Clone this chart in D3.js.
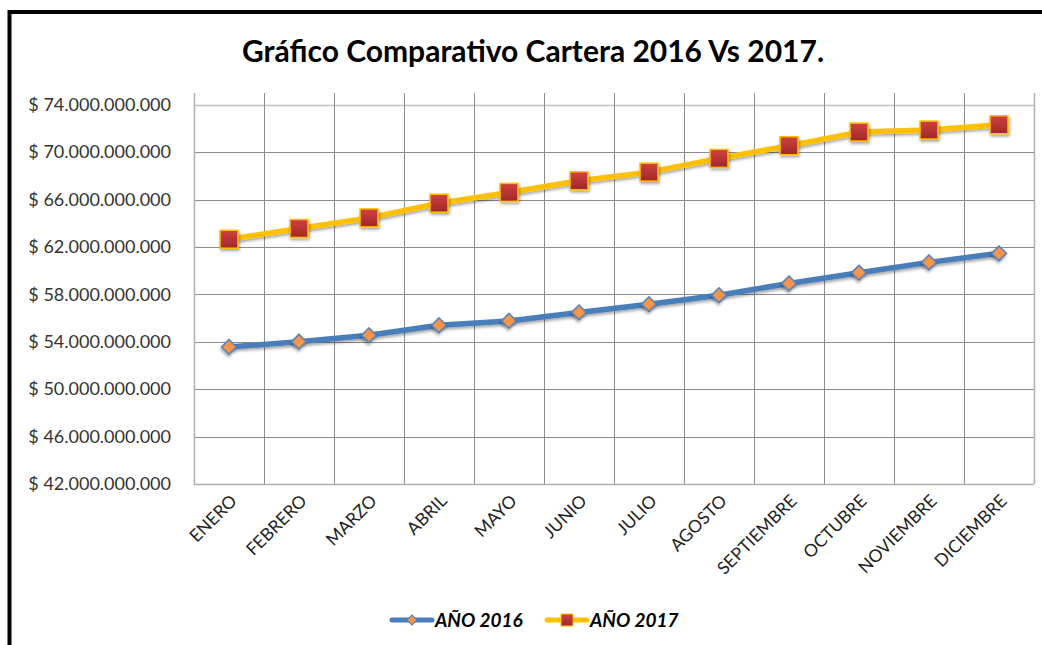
<!DOCTYPE html>
<html>
<head>
<meta charset="utf-8">
<script src="https://cdn.jsdelivr.net/npm/d3@7"></script>
<style>
  body { margin: 0; background: #fff; }
  svg { display: block; }
</style>
</head>
<body>
<div id="chart"></div>
<script>
// data (pesos)
var months = ["ENERO", "FEBRERO", "MARZO", "ABRIL", "MAYO", "JUNIO", "JULIO",
  "AGOSTO", "SEPTIEMBRE", "OCTUBRE", "NOVIEMBRE", "DICIEMBRE"];
var cartera2016 = [53560000000, 54000000000, 54550000000, 55390000000, 55760000000, 56470000000,
  57170000000, 57930000000, 58920000000, 59820000000, 60700000000, 61460000000];
var cartera2017 = [62650000000, 63560000000, 64450000000, 65690000000, 66600000000, 67580000000,
  68310000000, 69470000000, 70540000000, 71690000000, 71860000000, 72310000000];
var yTicks = [42000000000, 46000000000, 50000000000, 54000000000, 58000000000,
  62000000000, 66000000000, 70000000000, 74000000000];
var seriesNames = ["AÑO 2016", "AÑO 2017"];

var W = 1042, H = 645;
var svg = d3.select("#chart").append("svg").attr("width", W).attr("height", H);

var defs = svg.append("defs");
var shadow = defs.append("filter").attr("id", "shadow")
  .attr("x", "-50%").attr("y", "-50%").attr("width", "200%").attr("height", "200%");
shadow.append("feDropShadow").attr("dx", 1).attr("dy", 2).attr("stdDeviation", 1.5)
  .attr("flood-color", "#000").attr("flood-opacity", 0.35);
var grad = defs.append("linearGradient").attr("id", "redgrad")
  .attr("x1", 0).attr("y1", 0).attr("x2", 0).attr("y2", 1);
grad.append("stop").attr("offset", "0%").attr("stop-color", "#d04040");
grad.append("stop").attr("offset", "100%").attr("stop-color", "#a02828");

// outer border (right and bottom fall outside the picture)
svg.append("rect")
  .attr("x", 9.5).attr("y", 12).attr("width", W + 20).attr("height", H + 20)
  .attr("fill", "none").attr("stroke", "#000").attr("stroke-width", 4);

svg.append("text")
  .attr("x", 533).attr("y", 62)
  .attr("text-anchor", "middle")
  .style("font-family", "Lato, 'Open Sans', sans-serif")
  .style("font-weight", "bold").style("font-size", "30px")
  .attr("fill", "#000")
  .text("Gráfico Comparativo Cartera 2016 Vs 2017.");

var x = d3.scaleBand().domain(months).range([194, 1034]);
var y = d3.scaleLinear().domain([42000000000, 74000000000]).range([484, 104.7]);
var cx = function (m) { return x(m) + x.bandwidth() / 2; };

// grid
svg.append("g").selectAll("line").data(yTicks).enter().append("line")
  .attr("x1", 194).attr("x2", 1034)
  .attr("y1", function (d) { return Math.round(y(d)) + 0.5; })
  .attr("y2", function (d) { return Math.round(y(d)) + 0.5; })
  .attr("stroke", function (d, i) { return i == yTicks.length - 1 ? "#c0c0c0" : "#8c8c8c"; })
  .attr("stroke-width", function (d, i) { return i == yTicks.length - 1 ? 1.5 : 1; });

var edges = months.map(function (m) { return x(m); }).concat([1034]);
svg.append("g").selectAll("line").data(edges).enter().append("line")
  .attr("x1", function (d) { return Math.round(d) + 0.5; })
  .attr("x2", function (d) { return Math.round(d) + 0.5; })
  .attr("y1", 93).attr("y2", 484)
  .attr("stroke", function (d, i) { return i == 0 || i == edges.length - 1 ? "#b0b0b0" : "#8c8c8c"; })
  .attr("stroke-width", function (d, i) { return i == 0 || i == edges.length - 1 ? 1.5 : 1; });
svg.append("line").attr("x1", 194).attr("x2", 1034).attr("y1", 484.5).attr("y2", 484.5)
  .attr("stroke", "#b0b0b0").attr("stroke-width", 1.5);

// y axis labels
var loc = d3.formatLocale({decimal: ",", thousands: ".", grouping: [3], currency: ["$ ", ""]});
var fmt = loc.format(",.0f");
var yAxis = d3.axisLeft(y).tickValues(yTicks).tickSize(0).tickPadding(0)
  .tickFormat(function (d) { return "$ " + fmt(d); });
var ya = svg.append("g").attr("transform", "translate(171,0)").call(yAxis);
ya.select(".domain").remove();
ya.selectAll("text")
  .style("font-family", "Lato, 'Open Sans', sans-serif").style("font-size", "18px")
  .attr("fill", "#333");

// x axis labels
var xAxis = d3.axisBottom(x).tickSize(0).tickPadding(0);
var xa = svg.append("g").attr("transform", "translate(0,0)").call(xAxis);
xa.select(".domain").remove();
xa.selectAll(".tick").attr("transform", null);
xa.selectAll("text")
  .attr("x", null).attr("y", null).attr("dy", null)
  .attr("text-anchor", "end")
  .attr("transform", function (d) { return "translate(" + (cx(d) + 9) + ",502) rotate(-45)"; })
  .style("font-family", "Lato, 'Open Sans', sans-serif").style("font-size", "17.5px")
  .attr("fill", "#222");

// lines
var line = d3.line().x(function (d, i) { return cx(months[i]); }).y(function (d) { return y(d); });
svg.append("path").attr("d", line(cartera2016)).attr("fill", "none")
  .attr("stroke", "#4a7ebb").attr("stroke-width", 5.5).attr("stroke-linejoin", "round")
  .attr("filter", "url(#shadow)");
svg.append("path").attr("d", line(cartera2017)).attr("fill", "none")
  .attr("stroke", "#ffc000").attr("stroke-width", 5.5).attr("stroke-linejoin", "round")
  .attr("filter", "url(#shadow)");

// markers
var diamond = d3.symbol().type(d3.symbolSquare).size(110);
svg.append("g").selectAll("path").data(cartera2016).enter().append("path")
  .attr("d", diamond)
  .attr("transform", function (d, i) { return "translate(" + cx(months[i]) + "," + y(d) + ") rotate(45)"; })
  .attr("fill", "#f79646").attr("stroke", "#4a7ebb").attr("stroke-width", 1.5)
  .attr("filter", "url(#shadow)");

svg.append("g").selectAll("rect").data(cartera2017).enter().append("rect")
  .attr("x", function (d, i) { return cx(months[i]) - 9; })
  .attr("y", function (d) { return y(d) - 9; })
  .attr("width", 18).attr("height", 18)
  .attr("fill", "url(#redgrad)").attr("stroke", "#ffc000").attr("stroke-width", 1.5)
  .attr("filter", "url(#shadow)");

// legend
var legend = svg.append("g");
var items = [
  {name: seriesNames[0], x0: 390, color: "#4a7ebb"},
  {name: seriesNames[1], x0: 545, color: "#ffc000"}
];
items.forEach(function (it, k) {
  var g = legend.append("g").attr("transform", "translate(" + it.x0 + ",620)");
  g.append("line").attr("x1", 2).attr("x2", 42).attr("y1", 0).attr("y2", 0)
    .attr("stroke", it.color).attr("stroke-width", 5).attr("stroke-linecap", "round");
  if (k == 0) {
    g.append("path").attr("d", d3.symbol().type(d3.symbolSquare).size(50))
      .attr("transform", "translate(22,0) rotate(45)")
      .attr("fill", "#f79646").attr("stroke", "#4a7ebb").attr("stroke-width", 1);
  } else {
    g.append("rect").attr("x", 16).attr("y", -6).attr("width", 12).attr("height", 12)
      .attr("fill", "url(#redgrad)").attr("stroke", "#ffc000").attr("stroke-width", 1);
  }
  g.append("text").attr("x", 45).attr("y", 6.5)
    .style("font-family", "Lato, 'Open Sans', sans-serif")
    .style("font-weight", "bold").style("font-style", "italic").style("font-size", "19px")
    .attr("fill", "#000").text(it.name);
});
</script>
</body>
</html>
